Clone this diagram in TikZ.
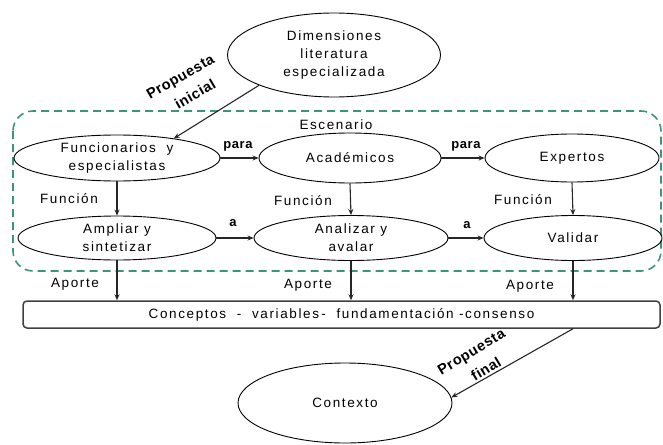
\documentclass[tikz,border=0pt]{standalone}
\usepackage{fontspec}
\setmainfont{Liberation Sans}[LetterSpace=12]
\newfontfamily\boldlab{Liberation Sans}[LetterSpace=4]
\usetikzlibrary{shapes.geometric,arrows.meta}
\definecolor{dashgreen}{RGB}{60,150,115}
\tikzset{
  oval/.style={ellipse, draw=black, line width=0.9pt, inner sep=0pt},
  txt/.style={font=\fontsize{13.5}{18}\selectfont, align=center, inner sep=0pt},
  btxt/.style={font=\boldlab\bfseries\fontsize{13}{16}\selectfont, align=center, inner sep=0pt},
  rtxt/.style={font=\boldlab\bfseries\fontsize{14.5}{16}\selectfont, inner sep=0pt},
  arr/.style={-{Stealth[length=6pt,width=5pt]}, line width=1.1pt, black!85},
}
\begin{document}
\begin{tikzpicture}[x=1pt,y=-1pt]
\useasboundingbox (0,0) rectangle (663,444);
% scenario frame
\draw[dashgreen, line width=1.6pt, dash pattern=on 8pt off 5pt, rounded corners=20pt] (13,111) rectangle (661,271);
\node[txt] (esc) at (336,125) {Escenario};
% top
\node[oval, minimum width=213pt, minimum height=84pt] (top) at (334,55) {};
\node[txt] (toptxt) at (top.center) {Dimensiones\\literatura\\especializada};
% row 1
\node[oval, minimum width=206pt, minimum height=46pt] (fun) at (117,158) {};
\node[txt] (funtxt) at (fun.center) {Funcionarios\ \ y\\especialistas};
\node[oval, minimum width=182pt, minimum height=50pt] (aca) at (350,158) {};
\node[txt] (acatxt) at (aca.center) {Académicos};
\node[oval, minimum width=174pt, minimum height=48pt] (exp) at (572,158) {};
\node[txt] (exptxt) at (exp.center) {Expertos};
% row 2
\node[oval, minimum width=198pt, minimum height=44pt] (amp) at (117,238) {};
\node[txt] (amptxt) at (amp.center) {Ampliar y\\sintetizar};
\node[oval, minimum width=194pt, minimum height=45pt] (ana) at (351,238) {};
\node[txt] (anatxt) at (ana.center) {Analizar y\\avalar};
\node[oval, minimum width=178pt, minimum height=45pt] (val) at (573,238) {};
\node[txt] (valtxt) at (val.center) {Validar};
% bottom box
\node[draw=black!75, line width=1.5pt, rounded corners=4pt, minimum width=637pt, minimum height=27pt, inner sep=0pt] (box) at (341.5,314.5) {};
\node[txt] (boxtxt) at (box.center) {Conceptos\ \ -\ \ variables\,-\ \ fundamentación\ -consenso};
% contexto
\node[oval, minimum width=214pt, minimum height=80pt] (ctx) at (345,403) {};
\node[txt] (ctxtxt) at (ctx.center) {Contexto};
% connectors
\draw[arr] (top.-158) -- (fun.19);
\node[rtxt, rotate=30] (pini1) at (181,78) {Propuesta};
\node[rtxt, rotate=30] (pini2) at (195,94) {inicial};
\draw[arr] (fun.east) -- (aca.west);
\draw[arr] (aca.east) -- (exp.west);
\node[btxt] (para1) at (238,146) {para};
\node[btxt] (para2) at (466,146) {para};
\draw[arr] (fun.south) -- (amp.north);
\draw[arr] (aca.south) -- (ana.north);
\draw[arr] (exp.south) -- (val.north);
\node[txt] (f1) at (69,199) {Función};
\node[txt] (f2) at (303,201) {Función};
\node[txt] (f3) at (523,200) {Función};
\draw[arr] (amp.east) -- (ana.west);
\draw[arr] (ana.east) -- (val.west);
\node[btxt] (a1) at (233,223) {a};
\node[btxt] (a2) at (467,225) {a};
\draw[arr] (amp.south) -- (amp.south |- box.north);
\draw[arr] (ana.south) -- (ana.south |- box.north);
\draw[arr] (val.south) -- (val.south |- box.north);
\node[txt] (ap1) at (75,284) {Aporte};
\node[txt] (ap2) at (308,285) {Aporte};
\node[txt] (ap3) at (530,286) {Aporte};
\draw[arr] (val.south |- box.south) -- (ctx.3);
\node[rtxt, rotate=31] (pfin1) at (472,353) {Propuesta};
\node[rtxt, rotate=31] (pfin2) at (486,369) {final};
\end{tikzpicture}
\end{document}
